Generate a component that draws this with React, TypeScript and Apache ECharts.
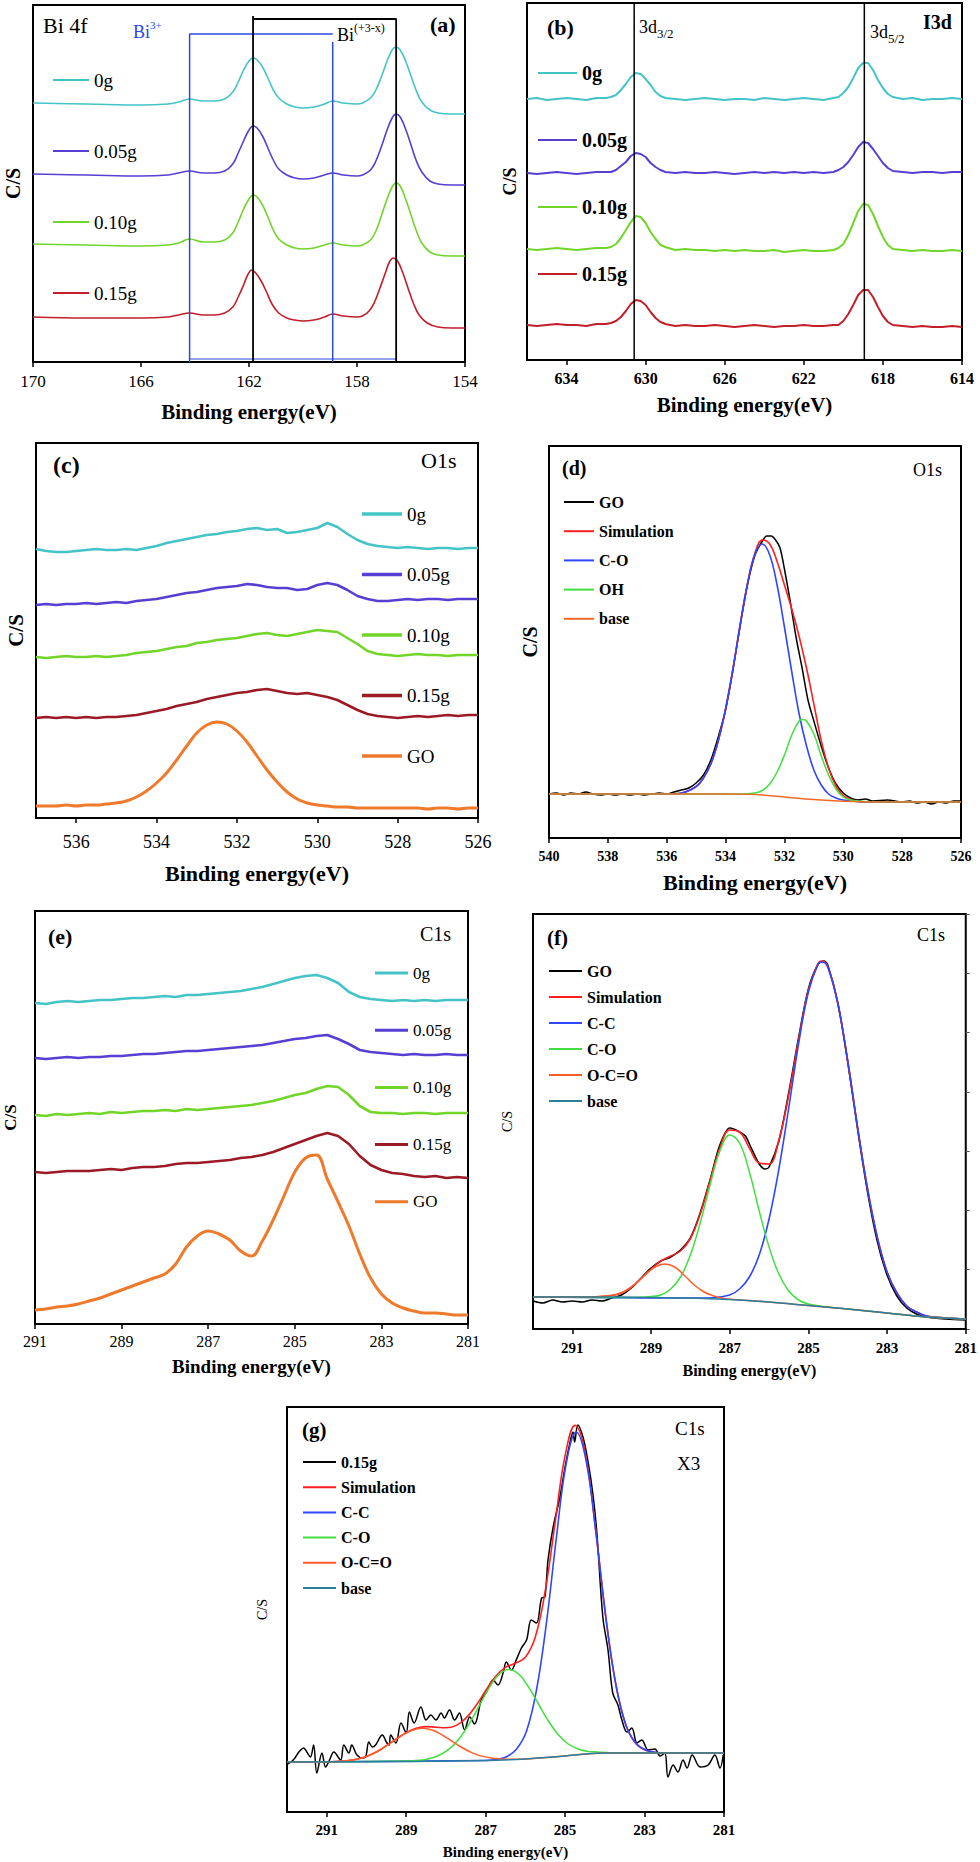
import React, { useEffect, useRef } from "react";
import * as echarts from "echarts";

const PAGE_W = 980;
const PAGE_H = 1862;
const SERIF = '"Liberation Serif", "Times New Roman", "DejaVu Serif", serif';

// ================= (a) Bi 4f =================
const aTicks = [170, 166, 162, 158, 154];
const a0g = [[170, 259], [168, 258], [166, 257], [165, 258], [164.6, 260], [164.2, 263], [163.7, 261], [163.3, 261], [162.9, 263], [162.6, 270], [162.4, 280], [162.2, 292], [162.0, 301], [161.85, 304], [161.7, 302], [161.5, 295], [161.3, 284], [161.1, 272], [160.9, 264], [160.6, 258], [160.3, 255], [160.0, 254], [159.6, 255], [159.2, 258], [158.9, 261], [158.5, 259], [158.0, 258], [157.8, 259], [157.5, 264], [157.3, 272], [157.1, 285], [156.9, 300], [156.7, 312], [156.55, 315], [156.4, 312], [156.2, 301], [156.0, 286], [155.8, 271], [155.6, 260], [155.3, 252], [155.0, 249], [154.5, 248], [154, 248]];
const a005 = [[170, 188], [168, 187], [166, 186], [165, 187], [164.6, 189], [164.2, 191], [163.7, 189], [163.3, 189], [162.9, 191], [162.6, 198], [162.4, 209], [162.2, 221], [162.0, 232], [161.85, 236], [161.7, 234], [161.5, 226], [161.3, 214], [161.1, 202], [160.9, 193], [160.6, 187], [160.3, 184], [160.0, 183], [159.6, 184], [159.2, 187], [158.9, 189], [158.5, 187], [158.0, 186], [157.8, 187], [157.5, 192], [157.3, 201], [157.1, 215], [156.9, 231], [156.7, 244], [156.55, 248], [156.4, 245], [156.2, 233], [156.0, 217], [155.8, 201], [155.6, 190], [155.3, 181], [155.0, 178], [154.5, 177], [154, 177]];
const a010 = [[170, 118], [168, 117], [166, 116], [165, 117], [164.6, 119], [164.2, 123], [163.7, 120], [163.3, 120], [162.9, 122], [162.6, 129], [162.4, 140], [162.2, 153], [162.0, 163], [161.85, 167], [161.7, 165], [161.5, 157], [161.3, 145], [161.1, 132], [160.9, 123], [160.6, 117], [160.3, 114], [160.0, 113], [159.6, 114], [159.2, 117], [158.9, 119], [158.5, 117], [158.0, 116], [157.8, 117], [157.5, 122], [157.3, 131], [157.1, 146], [156.9, 162], [156.7, 175], [156.55, 179], [156.4, 176], [156.2, 163], [156.0, 147], [155.8, 131], [155.6, 119], [155.3, 110], [155.0, 107], [154.5, 106], [154, 106]];
const a015 = [[170, 45], [168, 44], [166, 44], [165, 45], [164.6, 47], [164.2, 49], [163.7, 47], [163.3, 47], [162.9, 49], [162.6, 55], [162.4, 65], [162.2, 77], [162.05, 87], [161.9, 92], [161.75, 89], [161.55, 81], [161.35, 70], [161.15, 58], [160.9, 49], [160.6, 44], [160.3, 42], [160.0, 41], [159.6, 42], [159.2, 45], [158.9, 48], [158.5, 46], [158.0, 45], [157.8, 46], [157.55, 51], [157.35, 60], [157.15, 74], [156.95, 89], [156.8, 100], [156.65, 104], [156.5, 101], [156.3, 89], [156.1, 73], [155.9, 58], [155.7, 47], [155.4, 39], [155.0, 35], [154.5, 34], [154, 34]];
const aBi3Left = [[164.2, 0], [164.2, 328], [158.9, 328]];
const aBi3Right = [[158.9, 320], [158.9, 0]];
const aBi3Base = [[164.2, 3], [156.55, 3]];
const aBixLeft = [[161.85, 0], [161.85, 346]];
const aBixTop = [[161.85, 343], [156.55, 343], [156.55, 0]];

// ================= (b) I 3d =================
const bTicks = [634, 630, 626, 622, 618, 614];
const bE = [636, 635.5, 635, 634.5, 634, 633.5, 633, 632.5, 632,
  631.75, 631.5, 631.25, 631, 630.75, 630.5, 630.25, 630, 629.75, 629.5, 629.25, 629,
  628.5, 628, 627.5, 627, 626.5, 626, 625.5, 625, 624.5, 624, 623.5, 623, 622.5, 622, 621.5, 621, 620.5,
  620.25, 620, 619.75, 619.5, 619.25, 619, 618.75, 618.5, 618.25, 618, 617.75, 617.5,
  617, 616.5, 616, 615.5, 615, 614.5, 614];
const b0g = [261, 262, 260, 261, 262, 261, 260, 262, 262,
  263, 265, 270, 276, 283, 287, 286, 281, 275, 268, 264, 262,
  261, 260, 261, 262, 261, 260, 261, 261, 260, 262, 261, 260, 261, 262, 261, 260, 262,
  263, 267, 273, 282, 292, 297, 297, 290, 280, 272, 266, 263,
  261, 262, 260, 261, 261, 262, 261];
const b005 = [187, 186, 187, 188, 187, 186, 187, 188, 188,
  188, 190, 194, 198, 204, 207, 206, 203, 197, 193, 190, 188,
  187, 188, 187, 187, 188, 187, 186, 187, 188, 187, 188, 187, 188, 187, 188, 187, 188,
  190, 193, 198, 205, 213, 218, 217, 211, 204, 197, 192, 189,
  188, 187, 188, 188, 187, 188, 188];
const b010 = [111, 110, 111, 112, 111, 110, 111, 112, 112,
  113, 116, 122, 130, 138, 144, 143, 137, 128, 121, 115, 113,
  110, 111, 110, 110, 109, 110, 109, 110, 109, 109, 110, 108, 109, 110, 109, 109, 110,
  112, 116, 125, 137, 149, 156, 155, 146, 134, 123, 115, 111,
  110, 109, 110, 109, 109, 110, 109];
const b015 = [35, 34, 35, 36, 35, 35, 34, 36, 36,
  37, 39, 43, 49, 56, 60, 59, 55, 48, 42, 38, 36,
  34, 35, 34, 34, 35, 34, 33, 34, 35, 34, 33, 34, 34, 35, 34, 34, 35,
  35, 39, 46, 55, 65, 70, 70, 63, 53, 44, 38, 35,
  34, 33, 34, 33, 33, 34, 33];
const bPeakLines = [630.58, 618.94];

// ================= (c) O1s samples =================
const cTicks = [536, 534, 532, 530, 528, 526];
const cE = [537, 536.75, 536.5, 536.25, 536, 535.75, 535.5, 535.25, 535, 534.75, 534.5, 534.25, 534, 533.75, 533.5,
  533.25, 533, 532.75, 532.5, 532.25, 532, 531.75, 531.5, 531.25, 531, 530.75, 530.5, 530.25, 530, 529.75,
  529.5, 529.25, 529, 528.75, 528.5, 528.25, 528, 527.75, 527.5, 527.25, 527, 526.75, 526.5, 526.25, 526];
const c0g = [269, 267, 266, 266, 267, 268, 269, 268, 268, 269, 268, 270, 272, 275, 277,
  279, 281, 283, 284, 286, 287, 289, 290, 288, 289, 285, 286, 288, 290, 295,
  291, 284, 278, 274, 272, 271, 270, 271, 270, 269, 270, 270, 269, 270, 270];
const c005 = [213, 214, 213, 214, 214, 215, 214, 215, 216, 215, 217, 218, 219, 221, 223,
  225, 226, 228, 230, 231, 232, 234, 233, 231, 230, 230, 228, 229, 233, 235,
  233, 228, 222, 219, 217, 217, 218, 219, 218, 219, 219, 218, 219, 219, 219];
const c010 = [161, 160, 161, 162, 161, 161, 162, 161, 162, 163, 165, 166, 167, 169, 171,
  172, 175, 176, 178, 179, 180, 182, 184, 185, 183, 182, 184, 186, 188, 187,
  186, 180, 174, 167, 164, 163, 162, 163, 164, 163, 163, 162, 163, 163, 163];
const c015 = [100, 101, 100, 101, 100, 101, 100, 101, 101, 102, 103, 105, 107, 109, 112,
  114, 116, 119, 121, 123, 125, 126, 128, 129, 127, 125, 124, 125, 123, 121,
  118, 113, 108, 104, 102, 101, 100, 101, 102, 101, 102, 103, 102, 103, 103];
const cGO = [12, 12, 12, 13, 12, 13, 13, 14, 15, 17, 21, 27, 35, 45, 58,
  72, 85, 93, 96, 94, 87, 76, 62, 48, 36, 26, 19, 15, 13, 12,
  11, 11, 10, 10, 10, 10, 10, 10, 10, 9, 10, 10, 9, 10, 10];

// ================= (d) O1s GO fit =================
const dTicks = [540, 538, 536, 534, 532, 530, 528, 526];
const dGO = [[540, 44], [539.75, 45], [539.5, 43], [539.25, 45], [539, 44], [538.75, 46], [538.5, 44], [538.25, 43], [538, 44], [537.75, 43], [537.5, 44], [537.25, 43], [537, 44], [536.75, 43], [536.5, 44], [536.25, 45], [536, 44], [535.75, 46], [535.5, 48], [535.25, 50], [535, 55], [534.75, 63], [534.5, 78], [534.25, 101], [534, 128], [533.75, 168], [533.5, 213], [533.25, 254], [533, 283], [532.75, 297], [532.6, 302], [532.45, 302], [532.3, 298], [532.15, 290], [532, 269], [531.8, 236], [531.6, 200], [531.4, 170], [531.2, 138], [531, 117], [530.75, 92], [530.5, 70], [530.25, 54], [530, 45], [529.75, 40], [529.5, 38], [529.25, 39], [529, 37], [528.5, 38], [528, 36], [527.75, 37], [527.5, 35], [527.25, 36], [527, 34], [526.75, 36], [526.5, 35], [526.25, 37], [526, 37]];
const dSim = [[540, 44], [536, 44], [535.5, 45], [535, 51.5], [534.75, 60], [534.5, 74], [534.25, 97], [534, 129], [533.75, 169], [533.5, 214], [533.25, 255], [533, 285], [532.75, 298], [532.5, 294], [532.25, 276.5], [532, 253], [531.75, 229], [531.5, 201.5], [531.25, 170], [531, 134], [530.75, 97.5], [530.5, 70], [530.25, 52], [530, 42.5], [529.75, 38.5], [529.5, 36.5], [529, 36], [526, 36]];
const dCO = [[540, 44], [536, 44], [535.5, 45], [535, 51.5], [534.75, 60], [534.5, 74], [534.25, 97], [534, 129], [533.75, 169], [533.5, 214], [533.25, 255], [533, 284], [532.75, 294], [532.5, 283], [532.25, 253], [532, 211], [531.75, 166], [531.5, 124], [531.25, 92], [531, 68], [530.75, 53], [530.5, 44], [530.25, 40], [530, 38], [529.5, 36.5], [529, 36], [526, 36]];
const dOH = [[540, 44], [533.5, 44], [533, 45], [532.75, 47.5], [532.5, 54], [532.25, 66], [532, 83], [531.75, 103], [531.5, 117], [531.36, 118.5], [531.25, 117], [531, 104], [530.75, 82], [530.5, 63], [530.25, 49], [530, 41], [529.75, 38], [529.5, 37], [529, 36], [526, 36]];
const dBase = [[540, 44], [534, 44], [533, 43.5], [532, 41], [531, 38.5], [530, 36.8], [529, 36], [526, 36]];

// ================= (e) C1s samples =================
const eTicks = [291, 289, 287, 285, 283, 281];
const eE = [291, 290.75, 290.5, 290.25, 290, 289.75, 289.5, 289.25, 289, 288.75, 288.5, 288.25, 288, 287.75, 287.5,
  287.25, 287, 286.75, 286.5, 286.25, 286, 285.75, 285.5, 285.25, 285, 284.75, 284.5, 284.25, 284, 283.75,
  283.5, 283.25, 283, 282.75, 282.5, 282.25, 282, 281.75, 281.5, 281.25, 281];
const e0g = [321, 320, 322, 323, 322, 323, 324, 324, 325, 326, 326, 327, 328, 327, 329,
  329, 330, 331, 332, 333, 335, 337, 340, 343, 346, 348, 349, 346, 341, 332,
  327, 325, 324, 323, 324, 323, 324, 323, 324, 324, 324];
const e005 = [266, 265, 266, 267, 266, 267, 267, 268, 268, 269, 270, 270, 271, 272, 273,
  273, 274, 275, 276, 277, 278, 279, 281, 283, 285, 286, 288, 289, 285, 280,
  274, 272, 271, 270, 269, 270, 269, 269, 270, 269, 269];
const e010 = [209, 208, 210, 209, 210, 211, 210, 212, 211, 212, 213, 213, 214, 213, 215,
  214, 215, 216, 217, 218, 219, 221, 223, 226, 229, 231, 235, 238, 237, 229,
  218, 212, 211, 211, 210, 211, 211, 210, 211, 211, 211];
const e015 = [152, 151, 152, 153, 153, 153, 154, 155, 154, 156, 157, 157, 158, 160, 161,
  161, 162, 163, 164, 166, 167, 169, 172, 176, 180, 184, 188, 191, 188, 180,
  168, 159, 154, 151, 150, 148, 147, 148, 146, 147, 146];
const eGO = [14, 15, 17, 18, 20, 23, 26, 30, 34, 38, 42, 46, 50, 60, 77,
  88, 93, 90, 84, 73, 68, 83, 104, 128, 152, 166, 169, 145, 122, 98,
  70, 46, 30, 21, 16, 13, 11, 11, 10, 9, 9];

// ================= (f) C1s GO fit =================
const fgTicks = [291, 289, 287, 285, 283, 281];
const fGO = [[292, 28], [291.75, 26], [291.5, 29], [291.25, 27], [291, 28], [290.75, 27], [290.5, 29], [290.25, 28], [290, 31], [289.75, 34], [289.5, 41], [289.25, 51], [289, 61], [288.75, 68], [288.5, 72], [288.25, 79], [288, 91], [287.75, 116], [287.5, 149], [287.25, 184], [287, 201], [286.9, 200], [286.75, 197], [286.6, 193], [286.5, 185], [286.25, 165], [286.1, 160], [286, 162], [285.75, 188], [285.5, 236], [285.25, 291], [285, 340], [284.75, 365], [284.6, 368], [284.5, 363], [284.25, 326], [284, 267], [283.75, 200], [283.5, 138], [283.25, 88], [283, 54], [282.75, 33], [282.5, 21], [282.25, 15], [282, 12], [281.5, 10], [281, 9]];
const fSim = [[292, 32], [291, 32], [290.5, 32], [290.25, 32.5], [290, 33.5], [289.75, 36], [289.5, 42], [289.25, 50.5], [289, 60], [288.75, 68], [288.5, 73], [288.25, 78], [288, 90.5], [287.75, 115], [287.5, 148], [287.25, 181], [287, 199], [286.75, 197], [286.5, 181], [286.25, 166], [286, 165], [285.75, 189], [285.5, 234], [285.25, 289], [285, 339], [284.75, 366], [284.65, 368], [284.5, 362], [284.25, 325], [284, 268], [283.75, 202], [283.5, 141], [283.25, 92], [283, 57], [282.75, 36], [282.5, 23], [282.25, 17], [282, 13], [281.5, 11], [281, 10]];
const fCC = [[292, 32], [288, 31], [287.5, 31], [287, 34], [286.75, 40], [286.5, 52], [286.25, 74], [286, 110], [285.75, 160], [285.5, 221], [285.25, 285], [285, 337], [284.75, 365], [284.65, 367], [284.5, 361], [284.25, 325], [284, 268], [283.75, 202], [283.5, 141], [283.25, 92], [283, 57], [282.75, 36], [282.5, 23], [282.25, 17], [282, 13], [281.5, 11], [281, 10]];
const fCO = [[292, 32], [289.5, 31.5], [289, 32.5], [288.75, 34], [288.5, 40], [288.25, 52], [288, 74], [287.75, 106], [287.5, 144], [287.25, 178], [287, 194], [286.75, 186], [286.5, 157], [286.25, 118], [286, 82], [285.75, 55], [285.5, 38], [285.25, 29], [285, 25], [284.5, 22], [284, 20], [283, 16], [282, 12], [281, 10]];
const fOCO = [[292, 32], [290.5, 32], [290.15, 33], [289.9, 34.5], [289.65, 38], [289.4, 45], [289.15, 54], [288.9, 62], [288.65, 65], [288.4, 62], [288.15, 53.5], [287.9, 44], [287.65, 37], [287.4, 33], [287.15, 30.5], [286.9, 29.4], [286, 27], [285, 23.5], [284, 20], [283, 16], [282, 12], [281, 10]];
const fBase = [[292, 32], [291, 32], [290, 32], [289, 31.5], [288, 31], [287, 29.5], [286, 27], [285, 23.5], [284, 20], [283, 16], [282, 12], [281, 10]];

// ================= (g) C1s 0.15g fit (x3) =================
const g015 = [[292.04, 47], [291.9, 50], [291.8, 54], [291.7, 60], [291.58, 64], [291.5, 60], [291.41, 55], [291.33, 67], [291.25, 39], [291.12, 59], [291.03, 45], [290.93, 52], [290.82, 60], [290.65, 52], [290.57, 67], [290.44, 59], [290.37, 67], [290.24, 57], [290.1, 54], [290.02, 55], [289.94, 70], [289.85, 65], [289.77, 67], [289.6, 77], [289.5, 70], [289.43, 67], [289.39, 77], [289.26, 69], [289.13, 89], [289.0, 79], [288.92, 100], [288.8, 89], [288.63, 105], [288.5, 92], [288.38, 97], [288.25, 92], [288.12, 99], [288.04, 94], [287.91, 102], [287.78, 92], [287.66, 99], [287.53, 82], [287.4, 95], [287.28, 88], [287.11, 112], [286.98, 120], [286.81, 132], [286.69, 127], [286.56, 139], [286.48, 150], [286.35, 142], [286.23, 152], [286.1, 164], [285.97, 172], [285.85, 192], [285.72, 189], [285.59, 214], [285.51, 215], [285.43, 252], [285.3, 285], [285.13, 315], [285.0, 345], [284.9, 365], [284.8, 380], [284.76, 370], [284.68, 387], [284.55, 375], [284.43, 352], [284.3, 318], [284.2, 279], [284.05, 195], [283.92, 162], [283.8, 119], [283.67, 107], [283.57, 92], [283.44, 80], [283.32, 84], [283.19, 69], [283.07, 72], [282.91, 62], [282.74, 63], [282.61, 56], [282.49, 59], [282.41, 35], [282.28, 47], [282.16, 40], [282.03, 52], [281.93, 44], [281.8, 57], [281.6, 45], [281.4, 47], [281.23, 57], [281.1, 44], [281.02, 57]];
const gSim = [[292, 50], [291.5, 50], [291, 50.2], [290.75, 50.5], [290.5, 51.2], [290.25, 52.8], [290, 55.6], [289.75, 60], [289.5, 66.3], [289.25, 73.1], [289, 79.4], [288.75, 83.7], [288.5, 85.4], [288.25, 84.8], [288, 84.2], [287.75, 86.4], [287.5, 93.6], [287.25, 106], [287, 121.3], [286.75, 135.6], [286.5, 144.7], [286.25, 148.8], [286, 154.7], [285.75, 175], [285.5, 221], [285.25, 289.6], [285, 356.4], [284.75, 386.6], [284.5, 360.7], [284.25, 288.8], [284, 203.2], [283.75, 133.3], [283.5, 90.6], [283.25, 70], [283, 62.2], [282.75, 59.8], [282.5, 59], [281, 59]];
const gCC = [[292, 50], [287, 51.5], [286.72, 52.6], [286.47, 55.3], [286.22, 63], [285.97, 81], [285.72, 122], [285.47, 189], [285.22, 274], [284.97, 349], [284.72, 380], [284.47, 351], [284.22, 278], [283.97, 193], [283.72, 127], [283.47, 87], [283.22, 69], [282.97, 62], [282.72, 59.6], [282.5, 59], [281, 59]];
const gCO = [[292, 50], [289, 51], [288.67, 51.7], [288.42, 53.3], [288.17, 56.7], [287.92, 62.8], [287.67, 73], [287.42, 87.8], [287.17, 105.7], [286.92, 123.7], [286.67, 137.3], [286.42, 142.6], [286.17, 138], [285.92, 125], [285.67, 108], [285.42, 91], [285.17, 77.3], [284.92, 68], [284.67, 63], [284.42, 60.6], [284.17, 60], [283.92, 59.3], [283.5, 59], [281, 59]];
const gOCO = [[292, 50], [291, 50], [290.85, 50.3], [290.6, 50.9], [290.35, 52], [290.1, 54.3], [289.85, 58.1], [289.6, 63.5], [289.35, 70.1], [289.1, 76.7], [288.85, 81.7], [288.6, 83.7], [288.35, 82], [288.1, 77.2], [287.85, 70.8], [287.6, 64.5], [287.35, 59.4], [287.1, 55.9], [286.85, 53.9], [286.6, 53.1], [286.35, 52.8], [286, 53], [285, 56], [284, 59], [281, 59]];
const gBase = [[292, 50], [289, 50.5], [287, 51.5], [286, 53], [285.5, 54.5], [285, 56], [284.5, 58], [284, 59], [283, 59], [281, 59]];

// ---------------- helpers ----------------
const zip = (xs: number[], ys: number[]) => ys.map((v, i) => [xs[i], v]);

const txt = (x: number, y: number, text: string, size: number, bold = false, color = "#000") => ({
  type: "text", x, y, silent: true,
  style: {
    text, fill: color, font: `${bold ? "bold " : ""}${size}px ${SERIF}`,
    align: "left", verticalAlign: "middle", textAlign: "left", textVerticalAlign: "middle",
  },
});
const scriptTxt = (x: number, y: number, main: string, script: string, size: number, sSize: number, mode: "sup" | "sub", color = "#000") => ({
  type: "text", x, y, silent: true,
  style: {
    text: `{m|${main}}{s|${script}}`,
    align: "left", verticalAlign: "middle", textAlign: "left", textVerticalAlign: "middle",
    rich: {
      m: { fontSize: size, fontFamily: SERIF, fill: color, lineHeight: size + 8 },
      s: { fontSize: sSize, fontFamily: SERIF, fill: color, lineHeight: sSize + 1, verticalAlign: mode === "sup" ? "top" : "bottom" },
    },
  },
});

type Curve = { name: string; data: any[]; color: string; width: number; smooth?: number | boolean; legend?: boolean };

function panel(c: {
  box: number[]; xMin: number; xMax: number; ticks: number[];
  tickSize: number; tickBold: boolean; tickMargin: number;
  xNameSize: number; xNameGap: number;
  yNameSize: number; yNameGap: number; yNameBold: boolean;
  curves: Curve[];
  lg: { left: number; top: number; w: number; h: number; gap: number; size: number; bold: boolean };
  texts: any[];
  rightTicks?: boolean;
}) {
  const [L, T, R, B] = c.box;
  const yAxes: any[] = [{
    type: "value", min: 0, max: B - T,
    axisLine: { show: false }, axisTick: { show: false }, axisLabel: { show: false }, splitLine: { show: false },
    name: "C/S", nameLocation: "middle", nameGap: c.yNameGap, nameRotate: 90,
    nameTextStyle: { color: "#000", fontFamily: SERIF, fontSize: c.yNameSize, fontWeight: c.yNameBold ? "bold" : "normal" },
  }];
  if (c.rightTicks) {
    yAxes.push({
      type: "value", position: "right", min: 0, max: 7, interval: 1,
      axisLine: { show: false }, axisLabel: { show: false }, splitLine: { show: false },
      axisTick: { show: true, inside: false, length: 4, lineStyle: { color: "#555", width: 1 } },
    });
  }
  return {
    animation: false,
    backgroundColor: "transparent",
    grid: { left: L, top: T, width: R - L, height: B - T, show: true, borderColor: "#000", borderWidth: 2, backgroundColor: "transparent", containLabel: false },
    xAxis: {
      type: "value", min: c.xMin, max: c.xMax, inverse: true,
      axisLine: { show: true, onZero: false, lineStyle: { color: "#000", width: 2 } },
      axisTick: { show: true, inside: false, length: 5, customValues: c.ticks, lineStyle: { color: "#000", width: 1.5 } },
      axisLabel: { customValues: c.ticks, color: "#000", fontFamily: SERIF, fontSize: c.tickSize, fontWeight: c.tickBold ? "bold" : "normal", margin: c.tickMargin },
      splitLine: { show: false },
      name: "Binding energy(eV)", nameLocation: "middle", nameGap: c.xNameGap,
      nameTextStyle: { color: "#000", fontFamily: SERIF, fontSize: c.xNameSize, fontWeight: "bold" },
    },
    yAxis: yAxes,
    legend: {
      orient: "vertical", left: c.lg.left, top: c.lg.top, padding: 0, itemGap: c.lg.gap,
      itemWidth: c.lg.w, itemHeight: c.lg.h, icon: "rect", selectedMode: false,
      itemStyle: { borderWidth: 0 },
      data: c.curves.filter((s) => s.legend !== false).map((s) => s.name),
      textStyle: { color: "#000", fontFamily: SERIF, fontSize: c.lg.size, fontWeight: c.lg.bold ? "bold" : "normal", lineHeight: 20 },
    },
    series: c.curves.map((s) => ({
      type: "line", name: s.name, data: s.data, yAxisIndex: 0,
      showSymbol: false, symbol: "none", smooth: s.smooth ?? false, silent: true,
      lineStyle: { color: s.color, width: s.width }, itemStyle: { color: s.color },
      emphasis: { disabled: true },
    })),
    graphic: c.texts,
  };
}

// colors
const CY = "#45c4c8", PU = "#5640d4", GR = "#72d52a", RD = "#c21f2a", MR = "#9c1a26", OR = "#ef7a2c";
const BLK = "#000", SIM = "#ff1f1f", BLU = "#2f47ff", LGR = "#3fe03f", ORR = "#ff5c2a", TEAL = "#2b7f9c";

const optA = panel({
  box: [33, 5, 465, 362], xMin: 154, xMax: 170, ticks: aTicks,
  tickSize: 17, tickBold: false, tickMargin: 11, xNameSize: 21, xNameGap: 39,
  yNameSize: 20, yNameGap: 10, yNameBold: true,
  curves: [
    { name: "0g", data: a0g, color: CY, width: 1.6, smooth: 0.4 },
    { name: "0.05g", data: a005, color: PU, width: 1.6, smooth: 0.4 },
    { name: "0.10g", data: a010, color: GR, width: 1.6, smooth: 0.4 },
    { name: "0.15g", data: a015, color: RD, width: 1.6, smooth: 0.4 },
    { name: "_b1", data: aBi3Left, color: "#2b48e8", width: 1.5, legend: false },
    { name: "_b2", data: aBi3Right, color: "#2b48e8", width: 1.5, legend: false },
    { name: "_b3", data: aBi3Base, color: "#2b48e8", width: 1.2, legend: false },
    { name: "_k1", data: aBixLeft, color: BLK, width: 1.8, legend: false },
    { name: "_k2", data: aBixTop, color: BLK, width: 1.8, legend: false },
  ],
  lg: { left: 53, top: 70, w: 36, h: 2, gap: 51, size: 19, bold: false },
  texts: [
    txt(43, 25, "Bi 4f", 22),
    scriptTxt(133, 32, "Bi", "3+", 18, 11, "sup", "#2b48e8"),
    scriptTxt(337, 35, "Bi", "(+3-x)", 18, 12, "sup"),
    txt(430, 24, "(a)", 22, true),
  ],
});

const optB = panel({
  box: [527, 3, 962, 360], xMin: 614, xMax: 636, ticks: bTicks,
  tickSize: 16, tickBold: true, tickMargin: 10, xNameSize: 21, xNameGap: 34,
  yNameSize: 18, yNameGap: 8, yNameBold: true,
  curves: [
    { name: "0g", data: zip(bE, b0g), color: CY, width: 2 },
    { name: "0.05g", data: zip(bE, b005), color: PU, width: 2 },
    { name: "0.10g", data: zip(bE, b010), color: GR, width: 2 },
    { name: "0.15g", data: zip(bE, b015), color: RD, width: 2 },
    { name: "_l1", data: [[bPeakLines[0], 0], [bPeakLines[0], 357]], color: BLK, width: 1.5, legend: false },
    { name: "_l2", data: [[bPeakLines[1], 0], [bPeakLines[1], 357]], color: BLK, width: 1.5, legend: false },
  ],
  lg: { left: 538, top: 63, w: 39, h: 2, gap: 47, size: 20, bold: true },
  texts: [
    txt(547, 27, "(b)", 22, true),
    scriptTxt(639, 27, "3d", "3/2", 18, 13, "sub"),
    scriptTxt(870, 32, "3d", "5/2", 18, 13, "sub"),
    txt(923, 22, "I3d", 20, true),
  ],
});

const optC = panel({
  box: [36, 443, 478, 818], xMin: 526, xMax: 537, ticks: cTicks,
  tickSize: 18, tickBold: false, tickMargin: 15, xNameSize: 22, xNameGap: 44,
  yNameSize: 21, yNameGap: 10, yNameBold: true,
  curves: [
    { name: "0g", data: zip(cE, c0g), color: CY, width: 2.6 },
    { name: "0.05g", data: zip(cE, c005), color: PU, width: 2.6 },
    { name: "0.10g", data: zip(cE, c010), color: GR, width: 2.6 },
    { name: "0.15g", data: zip(cE, c015), color: MR, width: 2.6 },
    { name: "GO", data: zip(cE, cGO), color: OR, width: 3, smooth: 0.4 },
  ],
  lg: { left: 362, top: 504, w: 40, h: 3.5, gap: 40.5, size: 19, bold: false },
  texts: [txt(53, 465, "(c)", 24, true), txt(421, 460, "O1s", 22)],
});

const optD = panel({
  box: [549, 446, 961, 838], xMin: 526, xMax: 540, ticks: dTicks,
  tickSize: 14, tickBold: true, tickMargin: 11, xNameSize: 22, xNameGap: 33,
  yNameSize: 20, yNameGap: 9, yNameBold: true,
  curves: [
    { name: "GO", data: dGO, color: BLK, width: 1.5, smooth: 0.3 },
    { name: "Simulation", data: dSim, color: SIM, width: 1.6, smooth: 0.4 },
    { name: "C-O", data: dCO, color: BLU, width: 1.6, smooth: 0.4 },
    { name: "OH", data: dOH, color: LGR, width: 1.5, smooth: 0.4 },
    { name: "base", data: dBase, color: "#f06a2a", width: 1.5, smooth: 0.4 },
  ],
  lg: { left: 564, top: 492, w: 30, h: 2, gap: 9.2, size: 16, bold: true },
  texts: [txt(562, 468, "(d)", 20, true), txt(913, 470, "O1s", 18)],
});

const optE = panel({
  box: [35, 911, 468, 1324], xMin: 281, xMax: 291, ticks: eTicks,
  tickSize: 16, tickBold: false, tickMargin: 9, xNameSize: 19, xNameGap: 33,
  yNameSize: 17, yNameGap: 16, yNameBold: true,
  curves: [
    { name: "0g", data: zip(eE, e0g), color: CY, width: 2.6 },
    { name: "0.05g", data: zip(eE, e005), color: PU, width: 2.6 },
    { name: "0.10g", data: zip(eE, e010), color: GR, width: 2.6 },
    { name: "0.15g", data: zip(eE, e015), color: MR, width: 2.6 },
    { name: "GO", data: zip(eE, eGO), color: OR, width: 3, smooth: 0.4 },
  ],
  lg: { left: 375, top: 963, w: 33, h: 3, gap: 37.2, size: 17, bold: false },
  texts: [txt(48, 936, "(e)", 22, true), txt(420, 934, "C1s", 20)],
});

const optF = panel({
  box: [533, 914, 966, 1329], xMin: 281, xMax: 292, ticks: fgTicks,
  tickSize: 15, tickBold: true, tickMargin: 11, xNameSize: 16, xNameGap: 33,
  yNameSize: 14, yNameGap: 19, yNameBold: false,
  rightTicks: true,
  curves: [
    { name: "GO", data: fGO, color: BLK, width: 1.6, smooth: 0.3 },
    { name: "Simulation", data: fSim, color: SIM, width: 1.6, smooth: 0.4 },
    { name: "C-C", data: fCC, color: BLU, width: 1.6, smooth: 0.4 },
    { name: "C-O", data: fCO, color: LGR, width: 1.5, smooth: 0.4 },
    { name: "O-C=O", data: fOCO, color: ORR, width: 1.5, smooth: 0.4 },
    { name: "base", data: fBase, color: TEAL, width: 1.5, smooth: 0.4 },
  ],
  lg: { left: 549, top: 961, w: 33, h: 2, gap: 6, size: 16, bold: true },
  texts: [txt(547, 938, "(f)", 21, true), txt(917, 935, "C1s", 18)],
});

const optG = panel({
  box: [287, 1407, 724, 1812], xMin: 281, xMax: 292, ticks: fgTicks,
  tickSize: 15, tickBold: true, tickMargin: 10, xNameSize: 15, xNameGap: 32,
  yNameSize: 14, yNameGap: 18, yNameBold: false,
  curves: [
    { name: "0.15g", data: g015, color: BLK, width: 1.5, smooth: 0.35 },
    { name: "Simulation", data: gSim, color: SIM, width: 1.6, smooth: 0.4 },
    { name: "C-C", data: gCC, color: BLU, width: 1.6, smooth: 0.4 },
    { name: "C-O", data: gCO, color: LGR, width: 1.5, smooth: 0.4 },
    { name: "O-C=O", data: gOCO, color: ORR, width: 1.5, smooth: 0.4 },
    { name: "base", data: gBase, color: TEAL, width: 1.5, smooth: 0.4 },
  ],
  lg: { left: 303, top: 1452, w: 33, h: 2, gap: 5.2, size: 16, bold: true },
  texts: [txt(302, 1430, "(g)", 21, true), txt(675, 1428, "C1s", 19), txt(677, 1463, "X3", 19)],
});

const OPTIONS = [optA, optB, optC, optD, optE, optF, optG];

function Chart({ option }: { option: any }) {
  const ref = useRef<HTMLDivElement>(null);
  useEffect(() => {
    if (!ref.current) return;
    const chart = echarts.init(ref.current, undefined, { renderer: "svg" });
    chart.setOption(option);
    return () => chart.dispose();
  }, [option]);
  return <div ref={ref} style={{ position: "absolute", left: 0, top: 0, width: PAGE_W, height: PAGE_H }} />;
}

export default function App() {
  return (
    <div style={{ position: "absolute", left: 0, top: 0, width: PAGE_W, height: PAGE_H, background: "#fff", overflow: "hidden" }}>
      {OPTIONS.map((o, i) => (
        <Chart key={i} option={o} />
      ))}
    </div>
  );
}
